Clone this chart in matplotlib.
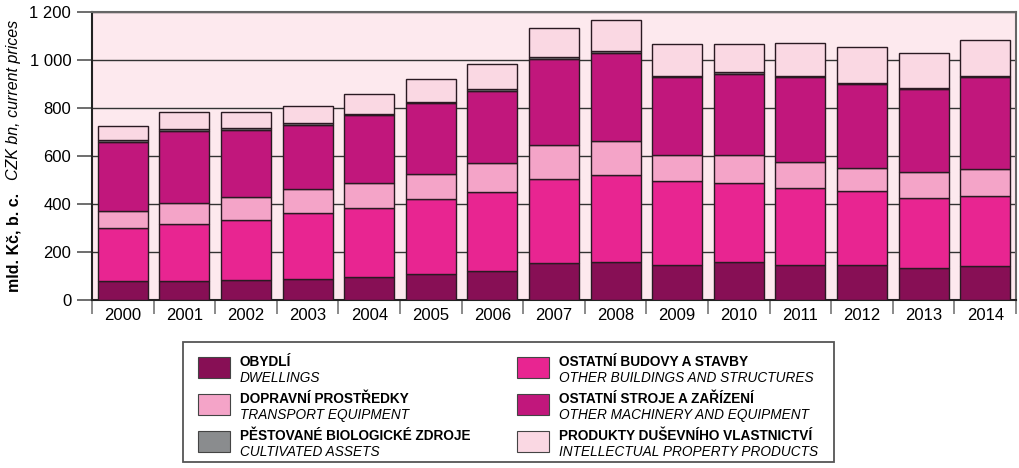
import numpy as np
import matplotlib.pyplot as plt
from matplotlib.patches import Rectangle

plt.rcParams['font.family'] = ['Liberation Sans', 'DejaVu Sans']

years = [str(y) for y in range(2000, 2015)]
dwellings = [81, 79, 82, 86, 97, 108, 120, 156, 157, 146, 157, 146, 147, 132, 143]
buildings = [218, 236, 251, 277, 285, 311, 329, 348, 364, 350, 332, 321, 306, 292, 289]
transport = [71, 91, 98, 100, 104, 106, 121, 143, 142, 107, 114, 107, 96, 108, 113]
machinery = [290, 300, 277, 267, 285, 294, 302, 359, 368, 325, 340, 354, 353, 346, 383]
cultivated = [5, 6, 7, 7, 5, 6, 6, 5, 5, 4, 6, 5, 4, 4, 4]
ip_products = [61, 70, 70, 71, 84, 96, 105, 121, 131, 133, 119, 137, 147, 146, 153]

series = [
    (dwellings, '#870f55', 'OBYDLÍ', 'DWELLINGS'),
    (buildings, '#e82591', 'OSTATNÍ BUDOVY A STAVBY', 'OTHER BUILDINGS AND STRUCTURES'),
    (transport, '#f4a4c8', 'DOPRAVNÍ PROSTŘEDKY', 'TRANSPORT EQUIPMENT'),
    (machinery, '#c1177c', 'OSTATNÍ STROJE A ZAŘÍZENÍ', 'OTHER MACHINERY AND EQUIPMENT'),
    (cultivated, '#8a8c8e', 'PĚSTOVANÉ BIOLOGICKÉ ZDROJE', 'CULTIVATED ASSETS'),
    (ip_products, '#fad8e3', 'PRODUKTY DUŠEVNÍHO VLASTNICTVÍ', 'INTELLECTUAL PROPERTY PRODUCTS'),
]

fig = plt.figure(figsize=(10.19, 4.68), dpi=100)
ax = fig.add_axes([92 / 1019, 1 - 300 / 468, 924 / 1019, 288 / 468])
ax.set_facecolor('#fde9ee')

x = np.arange(len(years))
bottom = np.zeros(len(years))
for vals, col, cz, en in series:
    ax.bar(x, vals, bottom=bottom, width=0.81, color=col, edgecolor='#2a1a22',
           linewidth=1.0, zorder=3)
    bottom += np.array(vals)

ax.set_xlim(-0.5, len(years) - 0.5)
ax.set_ylim(0, 1200)
ax.set_yticks(range(0, 1201, 200))
ax.set_yticklabels(['0', '200', '400', '600', '800', '1 000', '1 200'], fontsize=12)
ax.yaxis.grid(True, color='#333333', linewidth=1.0, zorder=0)
ax.set_axisbelow(True)

ax.set_xticks(x)
ax.set_xticklabels(years, fontsize=12)
ax.tick_params(axis='x', length=0, pad=6)
ax.set_xticks(np.arange(-0.5, len(years)), minor=True)
ax.tick_params(axis='x', which='minor', length=10, color='#777777', width=1.2)
ax.tick_params(axis='y', length=11, color='#555555', width=1.2, pad=4)

for s in ['left', 'bottom']:
    ax.spines[s].set_color('#222222')
    ax.spines[s].set_linewidth(1.5)
for s in ['top', 'right']:
    ax.spines[s].set_color('#666666')
    ax.spines[s].set_linewidth(1.5)

fig.text(14 / 1019, 1 - 242 / 468, 'mld. Kč, b. c.', rotation=90, fontsize=11.5,
         fontweight='bold', ha='center', va='center')
fig.text(14 / 1019, 1 - 100 / 468, 'CZK bn, current prices', rotation=90, fontsize=11.5,
         fontstyle='italic', ha='center', va='center')

# legend box drawn by hand (two lines per entry: Czech bold, English italic)
W, H = 1019, 468
fig.patches.append(Rectangle((183 / W, 1 - 462 / H), 651 / W, 120 / H, transform=fig.transFigure,
                             facecolor='white', edgecolor='#555555', linewidth=1.3))
order = [0, 2, 4, 1, 3, 5]
for i, k in enumerate(order):
    vals, col, cz, en = series[k]
    colx = 198 if i < 3 else 517
    rowy = 357 + 37 * (i % 3)
    fig.patches.append(Rectangle((colx / W, 1 - (rowy + 21) / H), 32 / W, 21 / H,
                                 transform=fig.transFigure, facecolor=col,
                                 edgecolor='#444444', linewidth=0.8))
    fig.text((colx + 42) / W, 1 - (rowy + 9) / H, cz, fontsize=9.8, fontweight='bold',
             va='baseline', ha='left')
    fig.text((colx + 42) / W, 1 - (rowy + 25) / H, en, fontsize=9.8, fontstyle='italic',
             va='baseline', ha='left')

fig.savefig('out.png', dpi=100)
